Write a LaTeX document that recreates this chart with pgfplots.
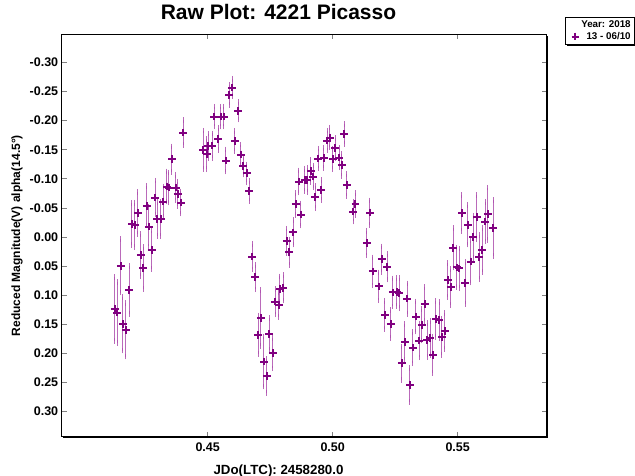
\documentclass[border=0pt]{standalone}
\usepackage{fontspec}
\setmainfont{Liberation Sans}
\usepackage{pgfplots}
\pgfplotsset{compat=1.18}
\usetikzlibrary{shadows}
\definecolor{pt}{RGB}{128,0,128}
\definecolor{eb}{RGB}{175,80,175}
\begin{document}
\begin{tikzpicture}
\useasboundingbox (0,0) rectangle (635pt,476pt);
\begin{axis}[
  at={(61.7pt,39.3pt)}, anchor=south west,
  scale only axis, width=485pt, height=402.2pt,
  xmin=0.3916, xmax=0.5856,
  ymin=-0.348, ymax=0.343, y dir=reverse,
  xtick={0.45,0.50,0.55},
  ytick={-0.30,-0.25,-0.20,-0.15,-0.10,-0.05,0,0.05,0.10,0.15,0.20,0.25,0.30},
  /pgf/number format/assume math mode=true,
  /pgf/number format/.cd, fixed, fixed zerofill, precision=2, /pgfplots/.cd,
  scaled ticks=false,
  tick align=inside, major tick length=5pt,
  every tick/.style={gray, line width=0.8pt},
  minor tick num=0,
  axis line style={black, line width=1pt},
  axis background/.style={fill=white, drop shadow={shadow xshift=1.2pt, shadow yshift=-1.2pt, fill=black, opacity=1}},
  tick label style={font=\bfseries\fontsize{12.5}{14}\selectfont},
  xticklabel style={anchor=base, yshift=-14.3pt},
  title={Raw Plot: 4221 Picasso},
  title style={at={(0.447,1)}, anchor=base, yshift=8.5pt, font=\bfseries\fontsize{21}{24}\selectfont},
  xlabel={JDo(LTC): 2458280.0},
  xlabel style={at={(0.447,0)}, anchor=base, yshift=-37.3pt, font=\bfseries\fontsize{13.3}{16}\selectfont},
  ylabel={Reduced Magnitude(V) alpha(14.5°)},
  ylabel style={at={(-0.0922,0.5)}, anchor=center, font=\bfseries\fontsize{12}{14}\selectfont},
  legend style={at={(1.0378,1.0435)}, anchor=north west, draw=black, line width=0.8pt, fill=white,
    font=\bfseries\fontsize{9.8}{11}\selectfont, inner sep=1.5pt, row sep=-1pt,
    drop shadow={shadow xshift=1.5pt, shadow yshift=-1.5pt, fill=black, opacity=1}},
  legend cell align=right,
]
\addlegendimage{empty legend}
\addlegendentry{Year: 2018}
\addplot[only marks, mark=+, mark size=3.8pt, line width=2pt, color=pt,
  error bars/.cd, y dir=both, y explicit,
  error bar style={color=eb, line width=1pt, opacity=0.85},
  error mark options={mark size=2.8pt, line width=1pt, color=eb}]
table[x=x, y=y, y error=e] {
x y e
0.4128 0.1239 0.055
0.4138 0.1297 0.052
0.4152 0.0495 0.046
0.4161 0.1491 0.046
0.4173 0.1595 0.046
0.4186 0.0907 0.041
0.4197 -0.0227 0.036
0.4209 -0.0210 0.038
0.4220 -0.0411 0.036
0.4232 0.0306 0.036
0.4242 0.0534 0.036
0.4256 -0.0536 0.034
0.4264 -0.0180 0.034
0.4276 0.0220 0.033
0.4290 -0.0679 0.029
0.4298 -0.0308 0.029
0.4313 -0.0313 0.029
0.4322 -0.0610 0.026
0.4336 -0.0868 0.026
0.4345 -0.0851 0.026
0.4357 -0.1338 0.022
0.4373 -0.0851 0.022
0.4380 -0.0742 0.021
0.4393 -0.0593 0.019
0.4402 -0.1796 0.021
0.4482 -0.1498 0.033
0.4496 -0.1424 0.026
0.4502 -0.1567 0.021
0.4518 -0.1572 0.021
0.4526 -0.2070 0.017
0.4542 -0.1687 0.019
0.4553 -0.2070 0.017
0.4565 -0.2070 0.017
0.4573 -0.1314 0.019
0.4586 -0.2438 0.017
0.4598 -0.2569 0.015
0.4609 -0.1648 0.017
0.4622 -0.2168 0.015
0.4632 -0.1418 0.017
0.4642 -0.1223 0.015
0.4656 -0.1098 0.015
0.4666 -0.0794 0.017
0.4678 0.0335 0.022
0.4690 0.0689 0.021
0.4702 0.1680 0.033
0.4712 0.1388 0.048
0.4725 0.2139 0.043
0.4736 0.2385 0.029
0.4746 0.1663 0.027
0.4760 0.1995 0.026
0.4770 0.1108 0.022
0.4784 0.1165 0.021
0.4789 0.0895 0.022
0.4802 0.0873 0.022
0.4816 0.0065 0.021
0.4826 0.0259 0.022
0.4842 -0.0081 0.021
0.4852 -0.0570 0.019
0.4864 -0.0954 0.019
0.4873 -0.0387 0.019
0.4888 -0.0983 0.019
0.4898 -0.0983 0.021
0.4912 -0.1137 0.019
0.4922 -0.1040 0.019
0.4930 -0.0686 0.019
0.4942 -0.1349 0.017
0.4954 -0.0811 0.017
0.4965 -0.1356 0.017
0.4978 -0.1658 0.017
0.4989 -0.1710 0.017
0.5000 -0.1338 0.017
0.5010 -0.1528 0.017
0.5026 -0.1366 0.017
0.5036 -0.1241 0.019
0.5046 -0.1773 0.017
0.5056 -0.0897 0.019
0.5082 -0.0438 0.017
0.5091 -0.0570 0.019
0.5136 0.0105 0.021
0.5149 -0.0421 0.021
0.5160 0.0589 0.024
0.5185 0.0847 0.024
0.5196 0.0380 0.022
0.5209 0.1337 0.024
0.5218 0.0512 0.022
0.5232 0.1491 0.024
0.5240 0.0950 0.024
0.5256 0.0942 0.024
0.5266 0.0964 0.026
0.5276 0.2167 0.029
0.5289 0.1806 0.031
0.5298 0.1057 0.026
0.5309 0.2540 0.029
0.5320 0.1899 0.027
0.5333 0.1366 0.026
0.5346 0.1778 0.029
0.5356 0.1509 0.027
0.5369 0.1148 0.029
0.5378 0.1766 0.029
0.5391 0.1732 0.029
0.5401 0.2024 0.031
0.5413 0.1411 0.031
0.5426 0.1423 0.031
0.5437 0.1715 0.031
0.5449 0.1612 0.031
0.5460 0.0735 0.029
0.5472 0.0861 0.031
0.5482 0.0186 0.034
0.5496 0.0521 0.034
0.5506 0.0538 0.034
0.5517 -0.0411 0.031
0.5530 0.0787 0.036
0.5541 -0.0210 0.034
0.5552 0.0421 0.036
0.5562 0.0002 0.036
0.5576 -0.0342 0.038
0.5586 0.0345 0.038
0.5598 0.0220 0.038
0.5610 -0.0266 0.034
0.5620 -0.0399 0.045
0.5642 -0.0153 0.048
};
\addlegendentry{13 - 06/10}
\end{axis}
\end{tikzpicture}
\end{document}
